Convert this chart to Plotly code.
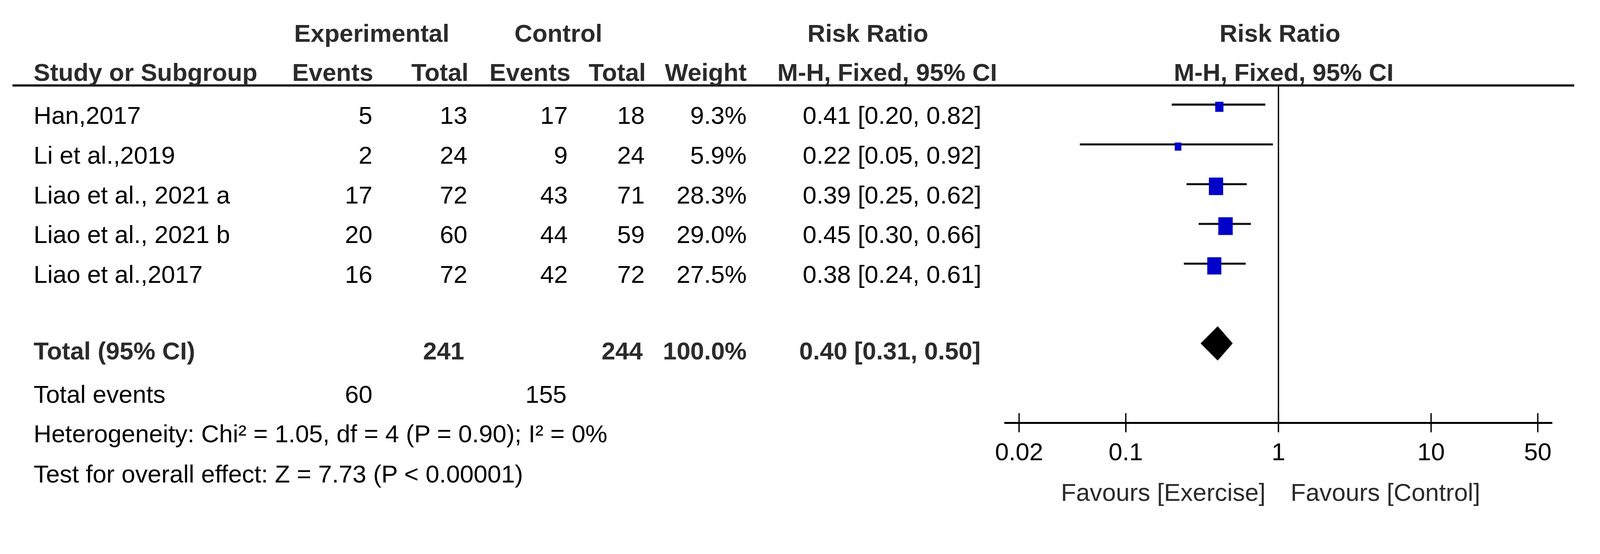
import math
import plotly.graph_objects as go

# ---------------- data ----------------
studies = ["Han,2017", "Li et al.,2019", "Liao et al., 2021 a", "Liao et al., 2021 b", "Liao et al.,2017"]
exp_events = [5, 2, 17, 20, 16]
exp_total = [13, 24, 72, 60, 72]
ctrl_events = [17, 9, 43, 44, 42]
ctrl_total = [18, 24, 71, 59, 72]
weights = [9.3, 5.9, 28.3, 29.0, 27.5]
rr = [0.41, 0.22, 0.39, 0.45, 0.38]
rr_lo = [0.20, 0.05, 0.25, 0.30, 0.24]
rr_hi = [0.82, 0.92, 0.62, 0.66, 0.61]

total_exp = 241
total_ctrl = 244
total_weight = 100.0
total_rr = 0.40
total_lo = 0.31
total_hi = 0.50
total_events_exp = 60
total_events_ctrl = 155
heterogeneity = "Heterogeneity: Chi² = 1.05, df = 4 (P = 0.90); I² = 0%"
overall = "Test for overall effect: Z = 7.73 (P < 0.00001)"

tick_vals = [0.02, 0.1, 1, 10, 50]
tick_text = ["0.02", "0.1", "1", "10", "50"]
favours_left = "Favours [Exercise]"
favours_right = "Favours [Control]"

# ---------------- layout (positions given in target-picture pixels) ----------------
W, H = 4370, 1418
Z = 1.0587          # page zoom observed in the photographed picture
OX, OY = 50.0, 14.0  # page offset observed in the photographed picture


def fx(p):
    return (p - OX) / Z


def px(p):
    return fx(p) / W


FONT = "Liberation Sans, Arial, sans-serif"
FS = 67 / Z
TXT = "#000000"
HDR = "#2b2b2b"
BLUE = "#0000c8"

PX_PER_DEC = 416.0
X_ONE = 3500.0
AX_L, AX_R = 2753.0, 4246.0
AX_Y = 1151.0
UNDERLINE_Y = 237.0

row_text_y = [318 + 107.75 * i for i in range(len(studies))]
row_line_y = [y - 29 for y in row_text_y]
Y_TOTAL = 956
Y_TEVENTS = 1074
Y_HET = 1181
Y_TEST = 1290
Y_H1 = 95
Y_H2 = 201
DIAMOND_Y = 936
Y_FAV = 1339


def lg_from_px(p):
    return (p - X_ONE) / PX_PER_DEC


fig = go.Figure()

# CI lines and weight boxes
for i in range(len(studies)):
    y = row_line_y[i]
    fig.add_trace(go.Scatter(x=[rr_lo[i], rr_hi[i]], y=[y, y], mode="lines",
                             line=dict(color="#111111", width=5.6 / Z), hoverinfo="skip"))
    hw = 3.6 * math.sqrt(weights[i]) / PX_PER_DEC
    hh = 4.4 * math.sqrt(weights[i])
    yc = y + 6
    xl = rr[i] * 10 ** (-hw)
    xr = rr[i] * 10 ** (hw)
    fig.add_trace(go.Scatter(x=[xl, xr, xr, xl, xl], y=[yc - hh, yc - hh, yc + hh, yc + hh, yc - hh],
                             mode="lines", fill="toself", fillcolor=BLUE,
                             line=dict(color=BLUE, width=0.5), hoverinfo="skip"))

# pooled diamond
fig.add_trace(go.Scatter(x=[total_lo, total_rr, total_hi, total_rr, total_lo],
                         y=[DIAMOND_Y, DIAMOND_Y - 46, DIAMOND_Y, DIAMOND_Y + 46, DIAMOND_Y],
                         mode="lines", fill="toself", fillcolor="#000000",
                         line=dict(color="#000000", width=1), hoverinfo="skip"))

shapes = []
shapes.append(dict(type="line", xref="paper", yref="y", x0=px(50), x1=px(4306),
                   y0=UNDERLINE_Y, y1=UNDERLINE_Y, line=dict(color="#000000", width=5.8 / Z)))
shapes.append(dict(type="line", xref="x", yref="y", x0=1, x1=1, y0=UNDERLINE_Y, y1=AX_Y,
                   line=dict(color="#000000", width=3.6 / Z)))
for tv in tick_vals:
    shapes.append(dict(type="line", xref="x", yref="y", x0=tv, x1=tv, y0=AX_Y - 26, y1=AX_Y + 26,
                       line=dict(color="#000000", width=3.6 / Z)))

ann = []


def text(x, y, s, anchor="left", bold=False, color=None):
    ann.append(dict(x=px(x), y=y, xref="paper", yref="y", text=("<b>%s</b>" % s) if bold else s,
                    showarrow=False, xanchor=anchor, yanchor="middle",
                    font=dict(family=FONT, size=FS, color=color or (HDR if bold else TXT))))


# headers
text(1029, Y_H1, "Experimental", "center", True)
text(1538, Y_H1, "Control", "center", True)
text(2381, Y_H1, "Risk Ratio", "center", True)
text(3504, Y_H1, "Risk Ratio", "center", True)
text(105, Y_H2, "Study or Subgroup", "left", True)
text(1035, Y_H2, "Events", "right", True)
text(1294, Y_H2, "Total", "right", True)
text(1572, Y_H2, "Events", "right", True)
text(1778, Y_H2, "Total", "right", True)
text(2053, Y_H2, "Weight", "right", True)
text(2433, Y_H2, "M-H, Fixed, 95% CI", "center", True)
text(3514, Y_H2, "M-H, Fixed, 95% CI", "center", True)

# study rows
for i, s in enumerate(studies):
    y = row_text_y[i]
    text(105, y, s)
    text(1033, y, str(exp_events[i]), "right")
    text(1291, y, str(exp_total[i]), "right")
    text(1565, y, str(ctrl_events[i]), "right")
    text(1775, y, str(ctrl_total[i]), "right")
    text(2052, y, "%.1f%%" % weights[i], "right")
    text(2692, y, "%.2f [%.2f, %.2f]" % (rr[i], rr_lo[i], rr_hi[i]), "right")

# totals
text(105, Y_TOTAL, "Total (95% CI)", "left", True)
text(1284, Y_TOTAL, str(total_exp), "right", True)
text(1770, Y_TOTAL, str(total_ctrl), "right", True)
text(2053, Y_TOTAL, "%.1f%%" % total_weight, "right", True)
text(2690, Y_TOTAL, "%.2f [%.2f, %.2f]" % (total_rr, total_lo, total_hi), "right", True)
text(105, Y_TEVENTS, "Total events")
text(1033, Y_TEVENTS, str(total_events_exp), "right")
text(1563, Y_TEVENTS, str(total_events_ctrl), "right")
text(105, Y_HET, heterogeneity)
text(105, Y_TEST, overall)

# favours labels
text(3467, Y_FAV, favours_left, "right", False, "#2b2b2b")
text(3531, Y_FAV, favours_right, "left", False, "#2b2b2b")

fig.update_layout(
    width=W, height=H, margin=dict(l=0, r=0, t=0, b=0),
    paper_bgcolor="white", plot_bgcolor="white", showlegend=False,
    shapes=shapes, annotations=ann,
    xaxis=dict(type="log", domain=[px(AX_L), px(AX_R)],
               range=[lg_from_px(AX_L), lg_from_px(AX_R)], autorange=False,
               anchor="free", position=1 - ((AX_Y - OY) / Z) / H,
               showline=True, linecolor="#000000", linewidth=5.5 / Z,
               ticks="outside", ticklen=17, tickwidth=3.6 / Z, tickcolor="#000000",
               tickvals=tick_vals, ticktext=tick_text,
               tickfont=dict(family=FONT, size=FS, color="#000000"),
               showgrid=False, zeroline=False, fixedrange=True),
    yaxis=dict(domain=[0, 1], range=[OY + Z * H, OY], autorange=False, visible=False,
               showgrid=False, zeroline=False, fixedrange=True),
)

fig.write_html("out.html")
